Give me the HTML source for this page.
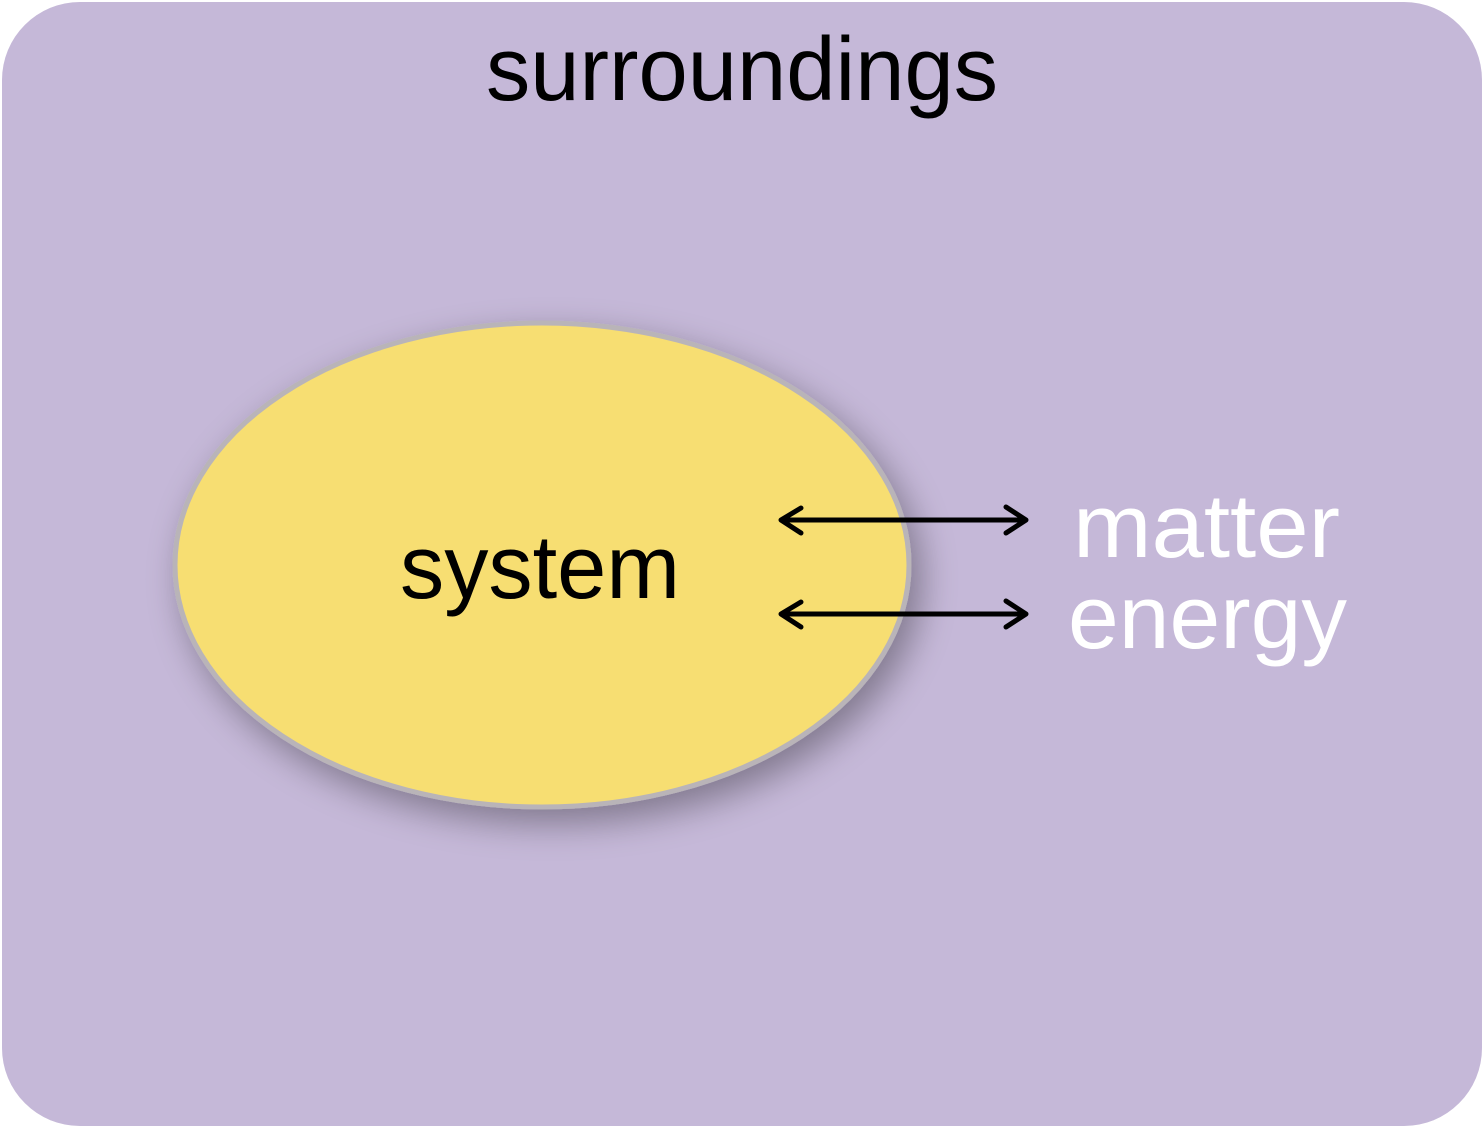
<!DOCTYPE html>
<html><head><meta charset="utf-8"><style>
html,body{margin:0;padding:0;background:#fff;}
svg{display:block;}
text{font-family:"Liberation Sans",sans-serif;}
</style></head><body>
<svg width="1484" height="1128" viewBox="0 0 1484 1128" xmlns="http://www.w3.org/2000/svg">
<defs>
<filter id="sh" x="-30%" y="-30%" width="160%" height="160%">
<feGaussianBlur in="SourceAlpha" stdDeviation="18"/>
<feOffset dx="10" dy="14"/>
<feComponentTransfer><feFuncA type="linear" slope="0.35"/></feComponentTransfer>
<feMerge><feMergeNode/><feMergeNode in="SourceGraphic"/></feMerge>
</filter>
</defs>
<rect x="2" y="2" width="1480" height="1124" rx="78" ry="78" fill="#c5b8d8"/>
<ellipse cx="542" cy="565" rx="367" ry="242" fill="#f7de72" stroke="#b9b4b8" stroke-width="5" filter="url(#sh)"/>
<text x="486" y="100" font-size="90" textLength="512" lengthAdjust="spacingAndGlyphs" fill="#000">surroundings</text>
<text x="400" y="598" font-size="90" textLength="280" lengthAdjust="spacingAndGlyphs" fill="#000">system</text>
<text x="1073" y="557" font-size="90" textLength="267" lengthAdjust="spacingAndGlyphs" fill="#fff">matter</text>
<text x="1068" y="648" font-size="90" textLength="279" lengthAdjust="spacingAndGlyphs" fill="#fff">energy</text>
<g stroke="#000" stroke-width="5" fill="none" stroke-linecap="round" stroke-linejoin="round">
<line x1="784" y1="520" x2="1024" y2="520"/>
<polyline points="801,508 781,520 801,533"/>
<polyline points="1006,507 1026,520 1006,533"/>
<line x1="784" y1="614" x2="1024" y2="614"/>
<polyline points="801,602 781,614 801,627"/>
<polyline points="1006,601 1026,614 1006,627"/>
</g>
</svg>
</body></html>
